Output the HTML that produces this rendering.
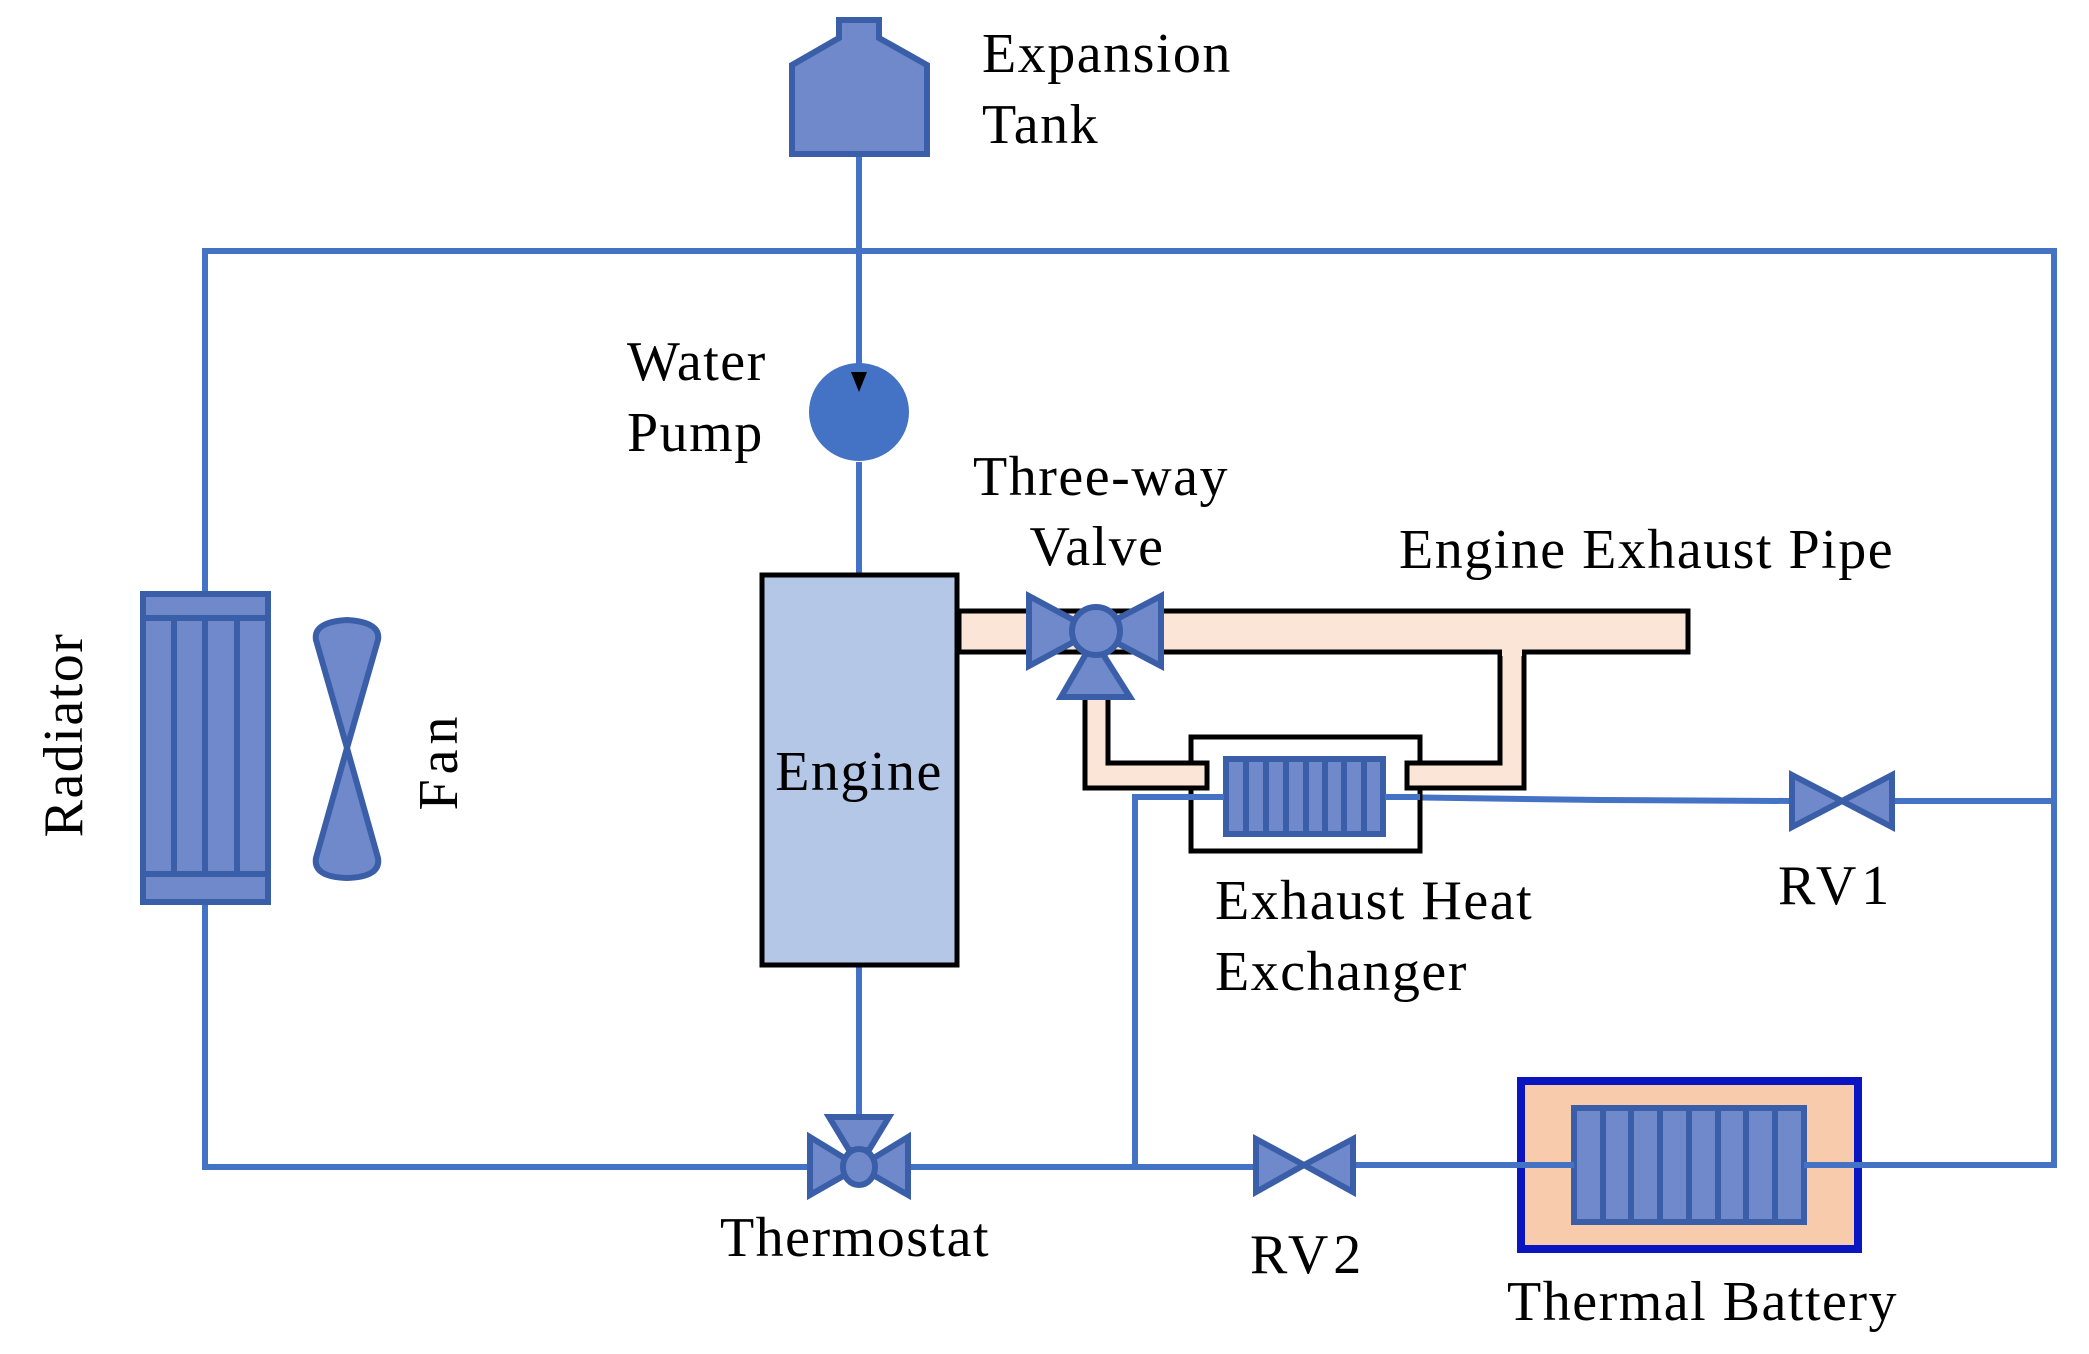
<!DOCTYPE html>
<html><head><meta charset="utf-8"><style>html,body{margin:0;padding:0;background:#fff}svg{display:block}text{font-family:"Liberation Serif",serif;font-size:56px;fill:#000;letter-spacing:1.5px}</style></head>
<body>
<svg width="2089" height="1354" viewBox="0 0 2089 1354" xmlns="http://www.w3.org/2000/svg">
<g stroke="#4472c4" stroke-width="6" fill="none">
<polyline points="205,591 205,251 2054,251 2054,1165 1806,1165"/>
<line x1="859" y1="156" x2="859" y2="390"/>
<line x1="859" y1="462" x2="859" y2="573"/>
<line x1="859" y1="965" x2="859" y2="1120"/>
<polyline points="205,904 205,1167 810,1167"/>
<line x1="910" y1="1167" x2="1253" y2="1167"/>
<line x1="1356" y1="1165" x2="1571" y2="1165"/>
<polyline points="1135,1167 1135,797 1224,797"/>
<polyline points="1385,797 1600,800 1790,801"/>
<line x1="1893" y1="801" x2="2054" y2="801"/>
</g>
<!-- tank -->
<polygon points="839,20 879,20 879,38 927,65 927,154 792,154 792,65 839,38" fill="#7089cb" stroke="#3a5fa8" stroke-width="6"/>
<ellipse cx="859" cy="412" rx="50" ry="49" fill="#4472c4"/>
<line x1="859" y1="360" x2="859" y2="375" stroke="#4472c4" stroke-width="6"/>
<polygon points="851,372 867,372 859,392" fill="#000"/>
<!-- radiator -->
<g fill="#7089cb" stroke="#3a5fa8" stroke-width="6">
<rect x="143" y="594" width="125" height="308"/>
<line x1="143" y1="618" x2="268" y2="618"/>
<line x1="143" y1="874" x2="268" y2="874"/>
<line x1="174" y1="618" x2="174" y2="874"/>
<line x1="205" y1="618" x2="205" y2="874"/>
<line x1="237" y1="618" x2="237" y2="874"/>
<path d="M347,748 L316,640 Q313,622 347,620 Q381,622 378,640 Z M347,748 L316,858 Q313,877 347,878 Q381,877 378,858 Z"/>
</g>
<!-- engine -->
<rect x="762" y="575" width="195" height="390" fill="#b4c7e7" stroke="#000" stroke-width="5"/>
<!-- HX box -->
<rect x="1191" y="737" width="229" height="114" fill="#fff" stroke="#000" stroke-width="5"/>
<!-- exhaust pipes -->
<g fill="#fbe5d6" stroke="#000" stroke-width="5">
<rect x="959" y="611" width="729" height="41"/>
<path d="M1500,652 L1500,763 L1407,763 L1407,788 L1524,788 L1524,652 Z"/>
<path d="M1085,690 L1085,788 L1207,788 L1207,763 L1108,763 L1108,690 Z"/>
</g>
<rect x="1502" y="640" width="20" height="16" fill="#fbe5d6"/>
<g fill="#7089cb" stroke="#3a5fa8" stroke-width="6">
<rect x="1226" y="759" width="157" height="75"/>
<path d="M1246,759v75M1266,759v75M1286,759v75M1306,759v75M1325,759v75M1344,759v75M1364,759v75"/>
</g>
<line x1="1135" y1="797" x2="1224" y2="797" stroke="#4472c4" stroke-width="6"/>
<line x1="1385" y1="797" x2="1420" y2="797" stroke="#4472c4" stroke-width="6"/>
<!-- three-way valve -->
<g fill="#7089cb" stroke="#3a5fa8" stroke-width="6">
<polygon points="1029,596 1094,631 1029,666"/>
<polygon points="1161,596 1094,631 1161,666"/>
<polygon points="1094,640 1130,697 1061,697"/>
<circle cx="1096" cy="631" r="24"/>
</g>
<!-- thermostat -->
<g fill="#7089cb" stroke="#3a5fa8" stroke-width="6">
<polygon points="810,1137 859,1167 810,1195"/>
<polygon points="908,1137 859,1167 908,1195"/>
<polygon points="829,1117 889,1117 869,1150 849,1150"/>
<ellipse cx="859" cy="1167" rx="16" ry="18"/>
</g>
<!-- RV1 RV2 -->
<g fill="#7089cb" stroke="#3a5fa8" stroke-width="6">
<polygon points="1792,775 1842,801 1792,827"/>
<polygon points="1892,775 1842,801 1892,827"/>
<polygon points="1256,1139 1304,1165 1256,1192"/>
<polygon points="1353,1139 1304,1165 1353,1192"/>
</g>
<!-- thermal battery -->
<rect x="1521" y="1081" width="337" height="168" fill="#f8cbad" stroke="#0a14c0" stroke-width="8"/>
<g fill="#7089cb" stroke="#3a5fa8" stroke-width="6">
<rect x="1574" y="1108" width="230" height="114"/>
<path d="M1603,1108v114M1631,1108v114M1660,1108v114M1689,1108v114M1718,1108v114M1746,1108v114M1775,1108v114"/>
</g>
<line x1="1517" y1="1165" x2="1574" y2="1165" stroke="#4472c4" stroke-width="6"/>
<line x1="1804" y1="1165" x2="1862" y2="1165" stroke="#4472c4" stroke-width="6"/>
<!-- labels -->
<text x="982" y="72">Expansion</text>
<text x="982" y="143">Tank</text>
<text x="627" y="380">Water</text>
<text x="627" y="451">Pump</text>
<text x="973" y="495">Three-way</text>
<text x="1097" y="565" text-anchor="middle">Valve</text>
<text x="1399" y="568">Engine Exhaust Pipe</text>
<text x="859" y="790" text-anchor="middle">Engine</text>
<text x="1215" y="919">Exhaust Heat</text>
<text x="1215" y="990">Exchanger</text>
<text x="1778" y="904" style="letter-spacing:5px">RV1</text>
<text x="1250" y="1273" style="letter-spacing:5px">RV2</text>
<text x="1507" y="1320">Thermal Battery</text>
<text x="855" y="1256" text-anchor="middle">Thermostat</text>
<text transform="translate(82,735) rotate(-90)" text-anchor="middle">Radiator</text>
<text transform="translate(457,761) rotate(-90)" text-anchor="middle" style="letter-spacing:5px">Fan</text>
</svg>
</body></html>
